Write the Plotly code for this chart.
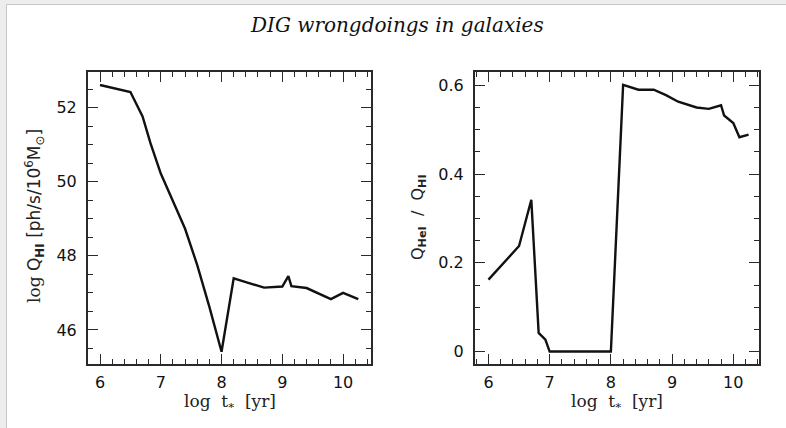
import plotly.graph_objects as go

# Log stellar-population age (log yr)
age_q = [6.0, 6.5, 6.7, 6.83, 7.0, 7.2, 7.4, 7.6, 7.8, 8.0, 8.2, 8.4, 8.7, 9.0, 9.1, 9.15, 9.4, 9.8, 10.0, 10.25]
# log Q(HI) in ph/s per 10^6 Msun
log_q_hi = [52.61, 52.42, 51.76, 51.04, 50.22, 49.45, 48.73, 47.75, 46.62, 45.41,
            47.39, 47.29, 47.14, 47.17, 47.45, 47.18, 47.13, 46.83, 47.0, 46.83]

age_r = [6.0, 6.5, 6.7, 6.82, 6.93, 7.0, 8.0, 8.2, 8.45, 8.7, 8.9, 9.1, 9.4, 9.6, 9.8, 9.85, 10.0, 10.1, 10.25]
# Q(HeI)/Q(HI) ratio
q_ratio = [0.162, 0.238, 0.342, 0.042, 0.027, 0.0, 0.0, 0.601, 0.590, 0.590, 0.578, 0.563,
           0.550, 0.547, 0.555, 0.532, 0.515, 0.483, 0.489]

left_yticks = [46, 48, 50, 52]
right_yticks = [0, 0.2, 0.4, 0.6]
right_yticktext = ["0", "0.2", "0.4", "0.6"]
xticks = [6, 7, 8, 9, 10]

W, H = 786, 428


def px(x):
    return x / W


def py(y):
    return 1 - y / H


INK = "#2a2a2a"
LEFT_DOM_X = [px(88), px(371)]
RIGHT_DOM_X = [px(475), px(759)]
DOM_Y = [py(364), py(72)]
LEFT_XR, RIGHT_XR = [5.802, 10.46], [5.78, 10.42]
LEFT_YR, RIGHT_YR = [45.08, 52.96], [-0.028, 0.63]

fig = go.Figure()
line = dict(color="#111111", width=2.4)
fig.add_trace(go.Scatter(x=age_q, y=log_q_hi, mode="lines", line=line,
                         xaxis="x", yaxis="y", showlegend=False, hoverinfo="skip"))
fig.add_trace(go.Scatter(x=age_r, y=q_ratio, mode="lines", line=line,
                         xaxis="x2", yaxis="y2", showlegend=False, hoverinfo="skip"))
# empty traces carrying the top/right tick frames
fig.add_trace(go.Scatter(x=[], y=[], xaxis="x3", yaxis="y3", showlegend=False, hoverinfo="skip"))
fig.add_trace(go.Scatter(x=[], y=[], xaxis="x4", yaxis="y4", showlegend=False, hoverinfo="skip"))

tickfont = dict(family="DejaVu Sans", size=16, color="#111111")
frame = dict(showline=True, linecolor=INK, linewidth=2, mirror="allticks",
             ticks="inside", ticklen=10, tickwidth=1.4, tickcolor=INK,
             showgrid=False, zeroline=False, tickfont=tickfont, fixedrange=True)
mirror_frame = dict(showline=False, ticks="inside", ticklen=10, tickwidth=1.4, tickcolor=INK,
                    showgrid=False, zeroline=False, showticklabels=False, fixedrange=True)


def minor(step):
    return dict(dtick=step, tick0=0, ticks="inside", ticklen=5, tickwidth=1.2, tickcolor=INK)


fig.update_layout(
    width=W, height=H,
    margin=dict(l=0, r=0, t=0, b=0),
    paper_bgcolor="#ededed",
    plot_bgcolor="white",
    xaxis=dict(domain=LEFT_DOM_X, range=LEFT_XR, tickvals=xticks, minor=minor(0.2),
               anchor="y", ticklabelstandoff=3, **frame),
    yaxis=dict(domain=DOM_Y, range=LEFT_YR, tickvals=left_yticks, minor=minor(0.5),
               anchor="x", ticklabelstandoff=6, **frame),
    xaxis2=dict(domain=RIGHT_DOM_X, range=RIGHT_XR, tickvals=xticks, minor=minor(0.2),
                anchor="y2", ticklabelstandoff=3, **frame),
    yaxis2=dict(domain=DOM_Y, range=RIGHT_YR, tickvals=right_yticks, ticktext=right_yticktext,
                minor=minor(0.05), anchor="x2", ticklabelstandoff=6, **frame),
    # top and right tick frames
    xaxis3=dict(overlaying="x", range=LEFT_XR, side="top", anchor="y3", tickvals=xticks,
                minor=minor(0.2), **mirror_frame),
    yaxis3=dict(overlaying="y", range=LEFT_YR, side="right", anchor="x3", tickvals=left_yticks,
                minor=minor(0.5), **mirror_frame),
    xaxis4=dict(overlaying="x2", range=RIGHT_XR, side="top", anchor="y4", tickvals=xticks,
                minor=minor(0.2), **mirror_frame),
    yaxis4=dict(overlaying="y2", range=RIGHT_YR, side="right", anchor="x4", tickvals=right_yticks,
                minor=minor(0.05), **mirror_frame),
    shapes=[
        dict(type="rect", xref="paper", yref="paper", x0=px(6.5), x1=px(790), y0=py(432), y1=py(4.5),
             fillcolor="white", line=dict(color="#c6c6c6", width=1), layer="below"),
    ],
)

label_font = dict(family="DejaVu Serif", size=17, color="#222222")
ann = [
    dict(x=px(397), y=py(25), text="<i>DIG wrongdoings in galaxies</i>",
         font=dict(family="DejaVu Serif", size=20, color="#111111")),
    dict(x=px(229.5), y=py(402), text="log  t<sub>*</sub>  [yr]", font=label_font),
    dict(x=px(616.5), y=py(402), text="log  t<sub>*</sub>  [yr]", font=label_font),
    dict(x=px(35), y=py(216), textangle=-90,
         text="<span style='font-family:DejaVu Serif'>log</span> Q<sub><b>HI</b></sub> [ph/s/10<sup>6</sup>M<sub>⊙</sub>]",
         font=dict(family="DejaVu Sans", size=17, color="#222222")),
    dict(x=px(418), y=py(217), textangle=-90,
         text="Q<sub><b>HeI</b></sub>  /  Q<sub><b>HI</b></sub>",
         font=dict(family="DejaVu Sans", size=16, color="#222222")),
]
for a in ann:
    a.update(xref="paper", yref="paper", showarrow=False, xanchor="center", yanchor="middle")
fig.update_layout(annotations=ann)

fig.write_html("out.html")
